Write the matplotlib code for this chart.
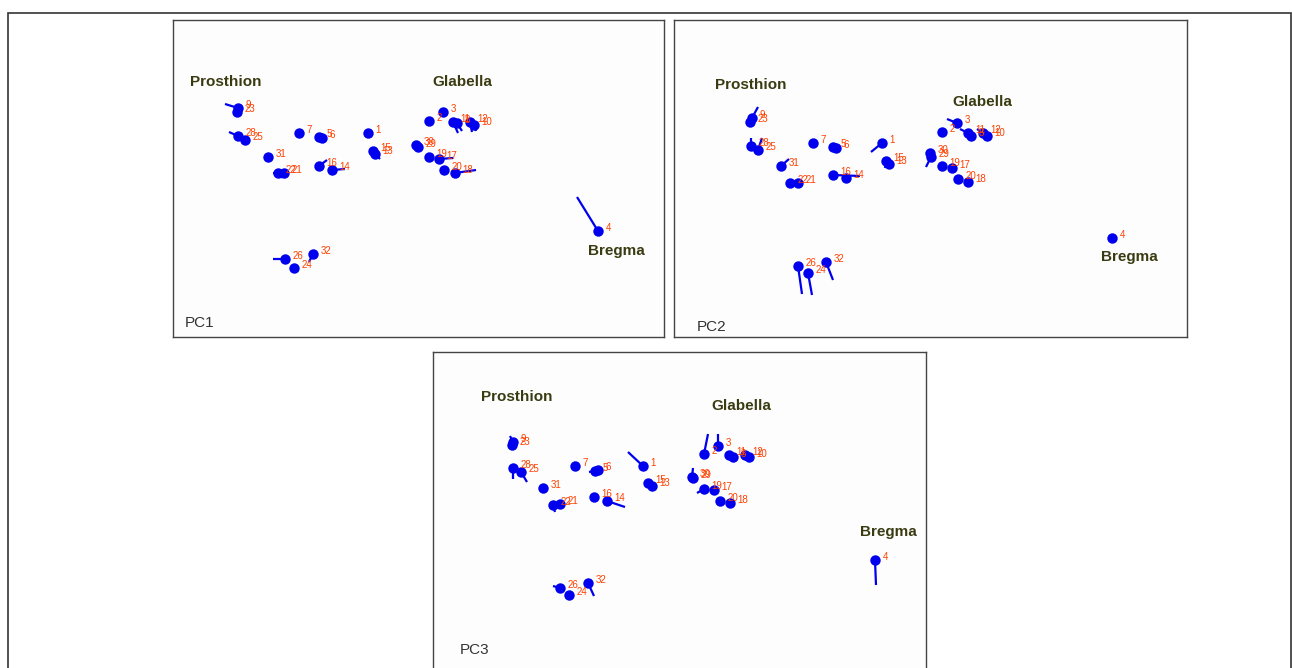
import matplotlib
matplotlib.use("Agg")
import matplotlib.pyplot as plt
from matplotlib.patches import Rectangle

plt.rcParams['font.family'] = ['Liberation Sans', 'DejaVu Sans']

W, H = 1292, 668

# ---------------- data (landmark coordinates within each panel, y downward) ----------------
pc1_labels = ["9", "23", "28", "25", "7", "5", "6", "1", "15", "13", "31", "22", "21", "16", "14",
              "2", "3", "11", "8", "12", "10", "30", "29", "19", "17", "20", "18", "26", "24", "32", "4"]
pc1_x  = [65, 64, 65, 72, 126, 146, 149, 195, 200, 202, 95, 105, 111, 146, 159,
          256, 270, 280, 284, 297, 301, 243, 245, 256, 266, 271, 282, 112, 121, 140, 425]
pc1_y  = [88, 92, 116, 120, 113, 117, 118, 113, 131, 134, 137, 153, 153, 146, 150,
          101, 92, 102, 103, 102, 105, 125, 127, 137, 139, 150, 153, 239, 248, 234, 211]
pc1_ex = [52, 64, 56, 72, 126, 146, 149, 193, 200, 207, 95, 100, 108, 154, 172,
          260, 270, 285, 289, 299, 303, 243, 245, 256, 280, 271, 303, 100, 120, 136, 404]
pc1_ey = [84, 92, 112, 120, 113, 117, 118, 117, 131, 139, 137, 153, 158, 140, 149,
          101, 92, 113, 111, 112, 111, 125, 127, 137, 138, 150, 150, 239, 250, 242, 177]

pc2_labels = pc1_labels
pc2_x  = [78, 76, 77, 84, 139, 159, 162, 208, 212, 215, 107, 116, 124, 159, 172,
          268, 283, 294, 297, 309, 313, 256, 257, 268, 278, 284, 294, 124, 134, 152, 438]
pc2_y  = [98, 102, 126, 130, 123, 127, 128, 123, 141, 144, 146, 163, 163, 155, 158,
          112, 103, 113, 116, 113, 116, 133, 137, 146, 148, 159, 162, 246, 253, 242, 218]
pc2_ex = [84, 76, 77, 88, 139, 159, 162, 197, 211, 215, 115, 116, 124, 186, 172,
          268, 273, 286, 297, 303, 313, 256, 252, 268, 278, 284, 294, 128, 138, 159, 438]
pc2_ey = [87, 102, 118, 118, 123, 127, 128, 132, 148, 144, 139, 163, 163, 156, 158,
          112, 99, 109, 116, 109, 116, 133, 147, 146, 148, 159, 162, 274, 275, 260, 218]

pc3_labels = pc1_labels
pc3_x  = [80, 79, 80, 88, 142, 162, 165, 210, 215, 219, 110, 120, 127, 161, 174,
          271, 285, 296, 300, 312, 316, 259, 260, 271, 281, 287, 297, 127, 136, 155, 442]
pc3_y  = [90, 93, 116, 120, 114, 119, 118, 114, 131, 134, 136, 153, 152, 145, 149,
          102, 94, 103, 105, 103, 105, 125, 126, 137, 138, 149, 151, 236, 243, 231, 208]
pc3_ex = [77, 79, 80, 94, 141, 156, 165, 195, 215, 219, 110, 122, 127, 161, 192,
          275, 285, 296, 300, 312, 316, 260, 260, 264, 281, 287, 297, 120, 136, 161, 443]
pc3_ey = [84, 93, 127, 130, 110, 120, 118, 100, 131, 134, 136, 160, 152, 145, 155,
          82, 82, 103, 105, 103, 105, 116, 126, 141, 138, 149, 151, 234, 243, 244, 233]

panel_names = ["PC1", "PC2", "PC3"]
anchor_names = ["Prosthion", "Glabella", "Bregma"]

# ---------------- layout ----------------
panel_boxes = [(173, 20, 664, 337), (674, 20, 1187, 337), (433, 352, 926, 690)]
anchor_pos = [[(53, 62), (289, 62), (443, 231)],
              [(77, 65), (308, 82), (455, 237)],
              [(84, 45), (308, 54), (455, 180)]]
name_pos = [(12, 303), (23, 307), (27, 298)]

fig = plt.figure(figsize=(W / 100, H / 100), dpi=100)
fig.patch.set_facecolor("white")

# outer frame
fig.patches.append(Rectangle((7.5 / W, -0.05), (1290.5 - 7.5) / W, 1 - 12.5 / H + 0.05,
                             transform=fig.transFigure, fill=False, edgecolor="#333333",
                             linewidth=1.2, zorder=0))

datasets = [(pc1_labels, pc1_x, pc1_y, pc1_ex, pc1_ey),
            (pc2_labels, pc2_x, pc2_y, pc2_ex, pc2_ey),
            (pc3_labels, pc3_x, pc3_y, pc3_ex, pc3_ey)]

blue = "#0000ee"
for i, (labs, xs, ys, exs, eys) in enumerate(datasets):
    x0, y0, x1, y1 = panel_boxes[i]
    ax = fig.add_axes([x0 / W, 1 - y1 / H, (x1 - x0) / W, (y1 - y0) / H])
    ax.set_xlim(0, x1 - x0)
    ax.set_ylim(y1 - y0, 0)
    ax.set_facecolor("#fdfdfd")
    ax.set_xticks([])
    ax.set_yticks([])
    for s in ax.spines.values():
        s.set_color("#444444")
        s.set_linewidth(1.0)
    for x, y, ex, ey in zip(xs, ys, exs, eys):
        ax.plot([x, ex], [y, ey], color=blue, lw=1.6, solid_capstyle="butt", zorder=2)
    ax.plot(xs, ys, "o", color=blue, markersize=7.5, markeredgewidth=0, zorder=3)
    for lab, x, y in zip(labs, xs, ys):
        ax.annotate(lab, (x, y), xytext=(5.5, 2), textcoords="offset points",
                    fontsize=7, color="#ff4000", ha="left", va="center", zorder=4)
    for name, (tx, ty) in zip(anchor_names, anchor_pos[i]):
        ax.text(tx, ty, name, fontsize=11, fontweight="bold", color="#3b3b12",
                ha="center", va="center", zorder=5)
    ax.text(name_pos[i][0], name_pos[i][1], panel_names[i], fontsize=11, color="#333333",
            ha="left", va="center")

fig.savefig("out.png", dpi=100, facecolor="white")
